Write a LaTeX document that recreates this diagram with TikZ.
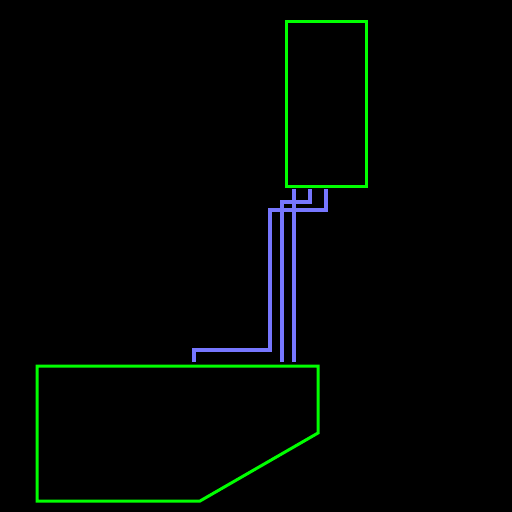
\documentclass[tikz,border=0pt]{standalone}
\begin{document}
\begin{tikzpicture}[x=1pt,y=-1pt,
  outline/.style={draw={rgb,255:red,0;green,255;blue,0},line width=3pt,line join=miter},
  wire/.style={draw={rgb,255:red,119;green,119;blue,255},line width=4pt,line join=miter}]
\fill[black] (0,0) rectangle (512,512);
\useasboundingbox (0,0) rectangle (512,512);
% top box
\node[outline,minimum width=80pt,minimum height=165pt,inner sep=0pt,outer sep=0pt,anchor=north west] (top) at (286,21) {};
% bottom shape
\draw[outline] (37,366) -- (318,366) -- (318,433) -- (200,501) -- (37,501) -- cycle;
% wire end points
\coordinate (a1) at (294,189);
\coordinate (a2) at (294,362);
\coordinate (b1) at (310,189);
\coordinate (b2) at (282,362);
\coordinate (c1) at (326,189);
\coordinate (c2) at (194,362);
\draw[wire] (a1) -- (a2);
\draw[wire] (b1) |- (282,202) -- (b2);
\draw[wire] (c1) |- (270,210) |- (194,350) -- (c2);
\end{tikzpicture}
\end{document}
